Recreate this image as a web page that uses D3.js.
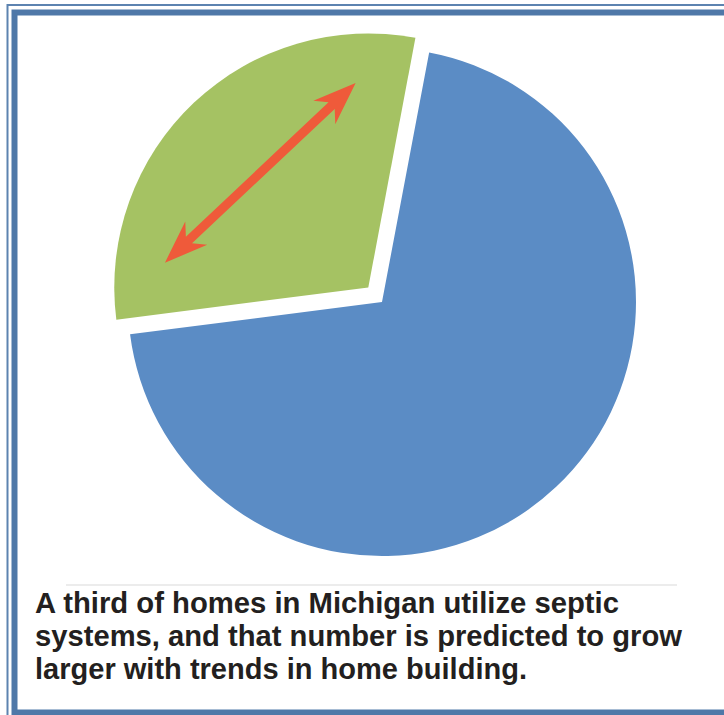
<!DOCTYPE html>
<html>
<head>
<meta charset="utf-8">
<script src="https://cdn.jsdelivr.net/npm/d3@7"></script>
<style>
  body { margin: 0; background: #fff; }
  svg { display: block; }
</style>
</head>
<body>
<svg id="chart" width="724" height="715"></svg>
<script>
// share of homes by wastewater system
var labels = ["Public sewer", "Septic systems"];
var shares = [70, 30];
var sliceColors = ["#5b8cc5", "#a5c263"];
var explode = [0, 20];

var captionLines = [
  "A third of homes in Michigan utilize septic",
  "systems, and that number is predicted to grow",
  "larger with trends in home building."
];
var captionWidths = [584, 647, 492];

var svg = d3.select("#chart");
var cx = 382, cy = 302, radius = 254;
var startAngle = 10.7 * Math.PI / 180;

// frame
svg.append("rect")
  .attr("x", 7.5).attr("y", 5)
  .attr("width", 800).attr("height", 800)
  .attr("fill", "none")
  .attr("stroke", "#5d83b0")
  .attr("stroke-width", 2);
svg.append("rect")
  .attr("x", 14.5).attr("y", 12.5)
  .attr("width", 800).attr("height", 700)
  .attr("fill", "#fff")
  .attr("stroke", "#4f78a8")
  .attr("stroke-width", 6);

var pie = d3.pie().sort(null)
  .startAngle(startAngle)
  .endAngle(startAngle + 2 * Math.PI);
var arcs = pie(shares);
var arc = d3.arc().innerRadius(0).outerRadius(radius);

var g = svg.append("g").attr("transform", "translate(" + cx + "," + cy + ")");

g.selectAll("path.slice")
  .data(arcs)
  .enter().append("path")
    .attr("class", "slice")
    .attr("transform", function (d, i) {
      var a = (d.startAngle + d.endAngle) / 2;
      return "translate(" + (Math.sin(a) * explode[i]) + "," + (-Math.cos(a) * explode[i]) + ")";
    })
    .attr("d", arc)
    .attr("fill", function (d, i) { return sliceColors[i]; });

// double-headed arrow across the septic slice
var septic = arcs[1];
var mid = (septic.startAngle + septic.endAngle) / 2;
var dist = explode[1] + radius * 0.62;
var ax = Math.sin(mid) * dist, ay = -Math.cos(mid) * dist;
var rot = mid * 180 / Math.PI; // arrow axis runs perpendicular to the bisector
var half = 131, shaft = 4.5, headLen = 43, barb = 16, notch = 33;
var pts = [
  [half, 0], [half - headLen, -barb], [half - notch, -shaft],
  [-half + notch, -shaft], [-half + headLen, -barb], [-half, 0],
  [-half + headLen, barb], [-half + notch, shaft],
  [half - notch, shaft], [half - headLen, barb]
];
g.append("path")
  .attr("transform", "translate(" + ax + "," + ay + ") rotate(" + rot + ")")
  .attr("d", d3.line()(pts) + "Z")
  .attr("fill", "#ef5a3a");

// caption
svg.append("line")
  .attr("x1", 66).attr("x2", 677)
  .attr("y1", 585).attr("y2", 585)
  .attr("stroke", "#d9d9d9")
  .attr("stroke-width", 1.2);

svg.selectAll("text.caption")
  .data(captionLines)
  .enter().append("text")
    .attr("class", "caption")
    .attr("x", 35)
    .attr("y", function (d, i) { return 613 + i * 33; })
    .attr("textLength", function (d, i) { return captionWidths[i]; })
    .attr("lengthAdjust", "spacingAndGlyphs")
    .style("font", "bold 29px 'Liberation Sans', Arial, sans-serif")
    .attr("fill", "#231f20")
    .text(function (d) { return d; });
</script>
</body>
</html>
